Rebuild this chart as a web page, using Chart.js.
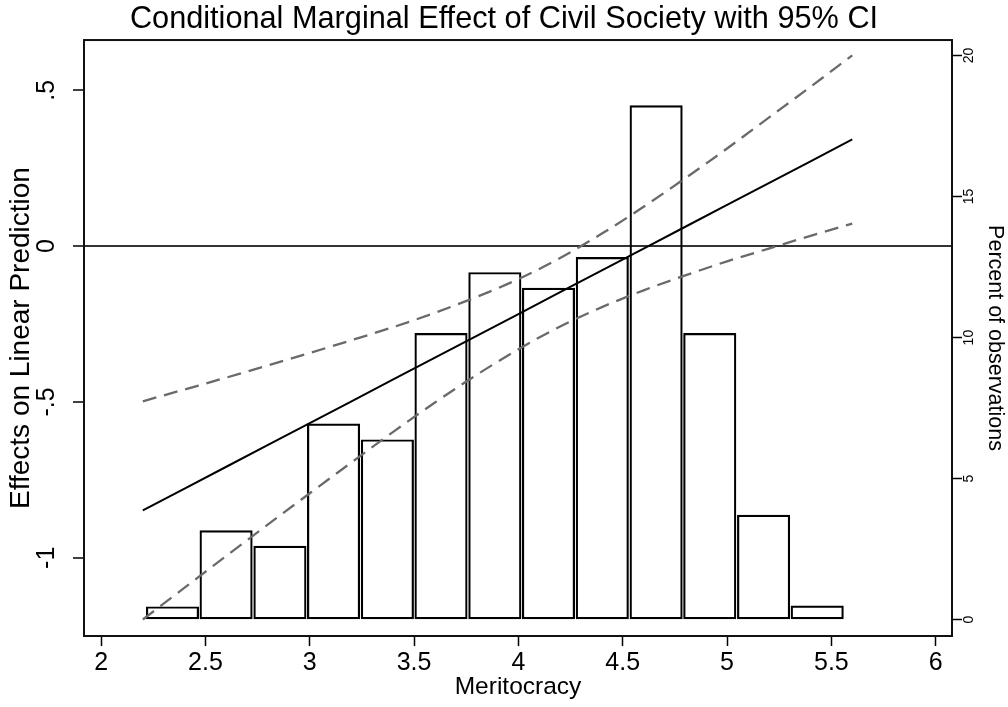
<!DOCTYPE html>
<html>
<head>
<meta charset="utf-8">
<title>Conditional Marginal Effect of Civil Society</title>
<script src="https://cdn.jsdelivr.net/npm/chart.js@4.4.1/dist/chart.umd.min.js"></script>
<style>
  html, body { margin: 0; padding: 0; background: #fff; }
  #wrap { width: 1008px; height: 707px; }
</style>
</head>
<body>
<div id="wrap"><canvas id="effectChart" width="1008" height="707"></canvas></div>
<script>
// Marginal effect of civil society at each value of meritocracy
const meritocracy = [2.2, 2.4, 2.6, 2.8, 3.0, 3.2, 3.4, 3.6, 3.8, 4.0, 4.2, 4.4, 4.6, 4.8, 5.0, 5.2, 5.4, 5.6];
const effect   = [-0.848, -0.778, -0.708, -0.638, -0.568, -0.498, -0.428, -0.358, -0.288, -0.218, -0.148, -0.078, -0.008, 0.062, 0.132, 0.202, 0.272, 0.342];
const upperCI  = [-0.498, -0.460, -0.422, -0.383, -0.343, -0.302, -0.260, -0.214, -0.163, -0.106, -0.038, 0.040, 0.126, 0.218, 0.313, 0.412, 0.511, 0.612];
const lowerCI  = [-1.198, -1.096, -0.994, -0.893, -0.793, -0.694, -0.596, -0.502, -0.413, -0.331, -0.258, -0.196, -0.142, -0.094, -0.049, -0.008, 0.033, 0.072];

// Histogram of meritocracy (percent of observations)
const binCenters = [2.342, 2.599, 2.857, 3.114, 3.372, 3.629, 3.887, 4.144, 4.402, 4.660, 4.917, 5.175, 5.432];
const binPercent = [0.47, 3.17, 2.62, 6.95, 6.39, 10.16, 12.32, 11.77, 12.86, 18.24, 10.16, 3.72, 0.50];

// Tick values and labels
const xTicks = [2, 2.5, 3, 3.5, 4, 4.5, 5, 5.5, 6];
const xTickLabels = ['2', '2.5', '3', '3.5', '4', '4.5', '5', '5.5', '6'];
const yTicks = [-1, -0.5, 0, 0.5];
const yTickLabels = ['-1', '-.5', '0', '.5'];
const pctTicks = [0, 5, 10, 15, 20];
const pctTickLabels = ['0', '5', '10', '15', '20'];

const FONT = '"Liberation Sans", Arial, Helvetica, sans-serif';
Chart.defaults.font.family = FONT;
Chart.defaults.color = '#000';

function toPoints(xs, ys) {
    return xs.map((x, i) => ({ x: x, y: ys[i] }));
}

// vertical tick labels (Stata draws them rotated)
const rotatedTickLabels = {
    id: 'rotatedTickLabels',
    afterDraw(chart) {
        const ctx = chart.ctx;
        const drawAxis = (scale, values, labels, x, size) => {
            ctx.save();
            ctx.font = size + 'px ' + FONT;
            ctx.fillStyle = '#000';
            ctx.textAlign = 'center';
            ctx.textBaseline = 'middle';
            values.forEach((v, i) => {
                const y = scale.getPixelForValue(v);
                ctx.save();
                ctx.translate(x, y);
                ctx.rotate(-Math.PI / 2);
                ctx.fillText(labels[i], 0, 0);
                ctx.restore();
            });
            ctx.restore();
        };
        drawAxis(chart.scales.y, yTicks, yTickLabels, 47, 25);
        drawAxis(chart.scales.y2, pctTicks, pctTickLabels, 969, 14);
    }
};

// box round the plot region
const plotFrame = {
    id: 'plotFrame',
    afterDraw(chart) {
        const a = chart.chartArea;
        const ctx = chart.ctx;
        ctx.save();
        ctx.strokeStyle = '#111';
        ctx.lineWidth = 2;
        ctx.strokeRect(a.left, a.top, a.right - a.left, a.bottom - a.top);
        ctx.restore();
    }
};

const ctx = document.getElementById('effectChart').getContext('2d');

new Chart(ctx, {
    type: 'bar',
    data: {
        datasets: [
            {
                type: 'line',
                data: toPoints(meritocracy, upperCI),
                yAxisID: 'y',
                borderColor: '#6a6a6a',
                borderWidth: 2.3,
                borderDash: [14, 8],
                pointRadius: 0,
                fill: false,
                cubicInterpolationMode: 'monotone',
                order: 1
            },
            {
                type: 'line',
                data: toPoints(meritocracy, lowerCI),
                yAxisID: 'y',
                borderColor: '#6a6a6a',
                borderWidth: 2.3,
                borderDash: [14, 8],
                pointRadius: 0,
                fill: false,
                cubicInterpolationMode: 'monotone',
                order: 1
            },
            {
                type: 'line',
                data: toPoints(meritocracy, effect),
                yAxisID: 'y',
                borderColor: '#000',
                borderWidth: 2,
                pointRadius: 0,
                fill: false,
                order: 0
            },
            {
                type: 'bar',
                data: toPoints(binCenters, binPercent),
                yAxisID: 'y2',
                borderColor: '#000',
                borderWidth: 2.2,
                backgroundColor: 'rgba(255,255,255,0)',
                borderSkipped: false,
                barPercentage: 0.99,
                categoryPercentage: 1,
                grouped: false,
                order: 3
            }
        ]
    },
    options: {
        responsive: false,
        animation: false,
        devicePixelRatio: 1,
        layout: { padding: 0 },
        plugins: {
            legend: { display: false },
            tooltip: { enabled: false },
            title: {
                display: true,
                text: 'Conditional Marginal Effect of Civil Society with 95% CI',
                font: { size: 30.7, weight: 'normal' },
                color: '#000',
                padding: { top: 1, bottom: 2.2 }
            }
        },
        scales: {
            x: {
                type: 'linear',
                position: 'bottom',
                min: 1.918,
                max: 6.078,
                offset: false,
                afterBuildTicks: s => { s.ticks = xTicks.map(v => ({ value: v })); },
                afterFit: s => { s.height = 71; },
                ticks: {
                    autoSkip: false,
                    maxRotation: 0,
                    padding: 2,
                    font: { size: 25 },
                    callback: (v, i) => xTickLabels[i]
                },
                grid: { offset: false, drawOnChartArea: false, tickLength: 10, tickColor: '#000', tickWidth: 1.5 },
                border: { display: false },
                title: { display: true, text: 'Meritocracy', font: { size: 24.5 }, padding: { bottom: 5 } }
            },
            y: {
                type: 'linear',
                position: 'left',
                min: -1.251,
                max: 0.661,
                afterBuildTicks: s => { s.ticks = yTicks.map(v => ({ value: v })); },
                afterFit: s => { s.width = 84; },
                ticks: { display: false },
                grid: {
                    drawOnChartArea: true,
                    color: c => (c.tick && c.tick.value === 0 ? '#333' : 'rgba(0,0,0,0)'),
                    lineWidth: 2,
                    tickLength: 11,
                    tickColor: '#000',
                    tickWidth: 1.5
                },
                border: { display: false },
                title: { display: true, text: 'Effects on Linear Prediction', font: { size: 28 }, padding: { top: 4 } }
            },
            y2: {
                type: 'linear',
                position: 'right',
                min: -0.58,
                max: 20.55,
                afterBuildTicks: s => { s.ticks = pctTicks.map(v => ({ value: v })); },
                afterFit: s => { s.width = 56; },
                ticks: { display: false },
                grid: { drawOnChartArea: false, tickLength: 10, tickColor: '#000', tickWidth: 1.5 },
                border: { display: false },
                title: { display: true, text: 'Percent of observations', font: { size: 21.5 }, padding: { top: 0 } }
            }
        }
    },
    plugins: [rotatedTickLabels, plotFrame]
});
</script>
</body>
</html>
